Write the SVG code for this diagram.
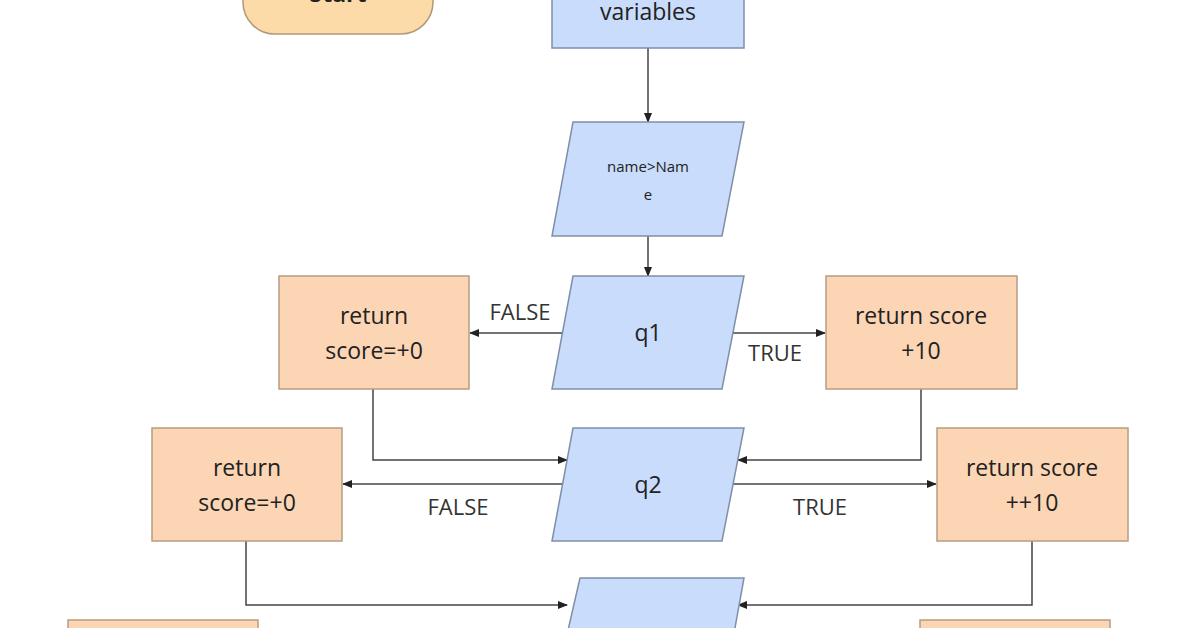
<svg xmlns="http://www.w3.org/2000/svg" width="1196" height="628" viewBox="0 0 1196 628">
<defs>
<marker id="ah" markerWidth="10" markerHeight="10" refX="9" refY="5" orient="auto" markerUnits="userSpaceOnUse"><path d="M0,1 L10,5 L0,9 Z" fill="#222"/></marker>
<style>
.b{fill:#c9dcfb;stroke:#7f8fa8;stroke-width:1.5}
.o{fill:#fcd5b5;stroke:#b89c80;stroke-width:1.5}
.s{fill:#fddba8;stroke:#b09a78;stroke-width:1.5}
.t{font-family:"Open Sans","DejaVu Sans",sans-serif;font-size:23px;fill:#222;text-anchor:middle}
.sm{font-size:15px}
.c{fill:none;stroke:#444;stroke-width:1.5;marker-end:url(#ah)}
.l{font-family:"Open Sans","DejaVu Sans",sans-serif;font-size:22px;fill:#333;text-anchor:middle}
</style>
</defs>
<rect width="1196" height="628" fill="#fff"/>
<g id="connectors">
<path class="c" d="M648,48 V122"/>
<path class="c" d="M648,236 V276"/>
<path class="c" d="M562,333 H470"/>
<path class="c" d="M733,333 H825"/>
<path class="c" d="M373,389 V460 H567"/>
<path class="c" d="M921,389 V460 H738"/>
<path class="c" d="M562,484 H343"/>
<path class="c" d="M733,484 H936"/>
<path class="c" d="M246,541 V605 H567"/>
<path class="c" d="M1032,541 V605 H738"/>
<text class="l" x="520" y="320">FALSE</text>
<text class="l" x="775" y="361">TRUE</text>
<text class="l" x="458" y="515">FALSE</text>
<text class="l" x="820" y="515">TRUE</text>
</g>
<g id="start"><rect class="s" x="243" y="-40" width="190" height="74" rx="32"/><text class="t" x="338" y="2" font-weight="bold">Start</text></g>
<g id="vars"><rect class="b" x="552" y="-20" width="192" height="68"/><text class="t" x="648" y="20">variables</text></g>
<g id="name"><polygon class="b" points="573,122 744,122 722,236 552,236"/><text class="t sm" x="648" y="172">name&gt;Nam</text><text class="t sm" x="648" y="200">e</text></g>
<g id="q1"><polygon class="b" points="573,276 744,276 722,389 552,389"/><text class="t" x="648" y="341">q1</text></g>
<g id="r1l"><rect class="o" x="279" y="276" width="190" height="113"/><text class="t" x="374" y="324">return</text><text class="t" x="374" y="359">score=+0</text></g>
<g id="r1r"><rect class="o" x="826" y="276" width="191" height="113"/><text class="t" x="921" y="324">return score</text><text class="t" x="921" y="359">+10</text></g>
<g id="q2"><polygon class="b" points="573,428 744,428 722,541 552,541"/><text class="t" x="648" y="493">q2</text></g>
<g id="r2l"><rect class="o" x="152" y="428" width="190" height="113"/><text class="t" x="247" y="476">return</text><text class="t" x="247" y="511">score=+0</text></g>
<g id="r2r"><rect class="o" x="937" y="428" width="191" height="113"/><text class="t" x="1032" y="476">return score</text><text class="t" x="1032" y="511">++10</text></g>
<g id="q3"><polygon class="b" points="580,578 744,578 722,700 552,700"/></g>
<g id="r3l"><rect class="o" x="68" y="620" width="190" height="100"/></g>
<g id="r3r"><rect class="o" x="920" y="620" width="190" height="100"/></g>
</svg>
